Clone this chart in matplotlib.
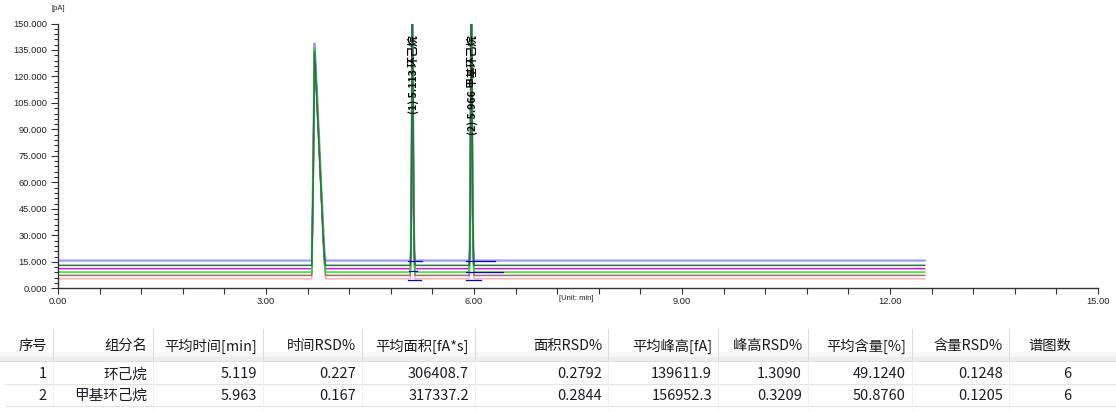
import numpy as np
import matplotlib
matplotlib.use('Agg')
import matplotlib.pyplot as plt
from matplotlib.ticker import MultipleLocator, FormatStrFormatter
from matplotlib.patches import Rectangle

plt.rcParams['font.family'] = ['Noto Sans CJK SC', 'DejaVu Sans']

# ---- chromatogram data (pA vs min) ----
run_end = 12.5
baselines = [15.7, 13.0, 11.1, 9.2, 7.3, 5.4]
trace_colors = ['#9a9aff', '#1e7b3c', '#ff00ff', '#00ff00', '#a86a62', '#ffb0b0']
trace_lw = [1.6, 1.1, 1.1, 1.1, 1.1, 1.1]
draw_order = [0, 5, 4, 2, 3, 1]   # light blue first, dark green on top

# solvent peak
p1_t = [3.66, 3.68, 3.70, 3.72, 3.74, 3.76, 3.78, 3.80, 3.82, 3.84, 3.86]
p1_h = [
    [0, 52, 123, 108, 91, 74, 57, 40, 23, 7, 0],
    [0, 48, 121, 105, 88, 71, 54, 37, 20, 5, 0],
    [0, 50, 125, 110, 93, 76, 58, 41, 24, 8, 0],
    [0, 55, 127, 112, 95, 78, 61, 44, 27, 10, 0],
    [0, 49, 128, 111, 94, 77, 60, 43, 25, 8, 0],
    [0, 47, 130, 113, 96, 79, 62, 45, 27, 9, 0],
]
# (1) 环己烷
p2_t = [5.08, 5.09, 5.10, 5.11, 5.12, 5.13, 5.14, 5.15]
p2_h = [
    [0, 8, 62, 141, 96, 30, 6, 0],
    [0, 5, 55, 138, 100, 34, 8, 0],
    [0, 10, 66, 140, 90, 28, 5, 0],
    [0, 6, 58, 139, 98, 36, 9, 0],
    [0, 9, 64, 142, 94, 31, 6, 0],
    [0, 7, 60, 138, 97, 33, 7, 0],
]
# (2) 甲基环己烷
p3_t = [5.93, 5.94, 5.95, 5.96, 5.97, 5.98, 5.99, 6.00]
p3_h = [
    [0, 10, 70, 157, 110, 35, 8, 0],
    [0, 7, 64, 156, 114, 40, 10, 0],
    [0, 12, 74, 158, 106, 32, 7, 0],
    [0, 8, 68, 157, 112, 38, 9, 0],
    [0, 11, 72, 156, 108, 34, 8, 0],
    [0, 9, 66, 157, 111, 37, 9, 0],
]

# integration baselines (start, end, level)
integ_marks = [
    (5.05, 5.25, 15.2), (5.06, 5.18, 10.0), (5.05, 5.23, 4.8),
    (5.88, 6.30, 15.2), (5.88, 6.42, 9.3), (5.88, 6.10, 4.8),
]

peak_labels = ['(1) 5.113 环己烷', '(2) 5.966 甲基环己烷']
peak_label_t = [5.12, 5.97]

x_major = [0, 3, 6, 9, 12, 15]
y_major = [0, 15, 30, 45, 60, 75, 90, 105, 120, 135, 150]

# ---- results table ----
headers = ['序号', '组分名', '平均时间[min]', '时间RSD%', '平均面积[fA*s]', '面积RSD%',
           '平均峰高[fA]', '峰高RSD%', '平均含量[%]', '含量RSD%', '谱图数']
row1 = ['1', '环己烷', '5.119', '0.227', '306408.7', '0.2792', '139611.9', '1.3090',
        '49.1240', '0.1248', '6']
row2 = ['2', '甲基环己烷', '5.963', '0.167', '317337.2', '0.2844', '156952.3', '0.3209',
        '50.8760', '0.1205', '6']
col_edges = [53, 153, 263, 362, 475, 608, 718, 808, 912, 1009, 1077]


fig = plt.figure(figsize=(11.16, 4.12), dpi=100)

W, H = 1116.0, 412.0
ax = fig.add_axes([58 / W, 1 - 288.3 / H, (1098 - 58) / W, (288.3 - 23.5) / H])

for k, i in enumerate(draw_order):
    t = [0.0] + p1_t + p2_t + p3_t + [run_end]
    h = [0] + p1_h[i] + p2_h[i] + p3_h[i] + [0]
    y = [baselines[i] + v for v in h]
    ax.plot(t, y, color=trace_colors[i], lw=trace_lw[i], zorder=2 + k * 0.1)

for (t0, t1, lvl) in integ_marks:
    ax.plot([t0, t1], [lvl, lvl], color='#0000ff', lw=0.9, zorder=3)

for txt, tp in zip(peak_labels, peak_label_t):
    ax.text(tp, 143.5, txt, rotation=90, ha='center', va='top', fontsize=7.6,
            fontweight='bold', color='black', zorder=5)

ax.set_xlim(0, 15)
ax.set_ylim(0, 150)
ax.set_xticks(x_major)
ax.set_yticks(y_major)
ax.xaxis.set_minor_locator(MultipleLocator(0.6))
ax.yaxis.set_minor_locator(MultipleLocator(3))
ax.xaxis.set_major_formatter(FormatStrFormatter('%.2f'))
ax.yaxis.set_major_formatter(FormatStrFormatter('%.3f'))

for s in ['top', 'right']:
    ax.spines[s].set_visible(False)
for s in ['left', 'bottom']:
    ax.spines[s].set_color('#333333')
    ax.spines[s].set_linewidth(1.0)

ax.tick_params(axis='both', which='both', colors='#333333', labelcolor='#222222',
               labelsize=6.7, width=0.8)
ax.tick_params(axis='y', which='major', length=5, pad=3)
ax.tick_params(axis='y', which='minor', length=3)
ax.tick_params(axis='x', which='both', length=4, pad=2)
for lab in ax.get_xticklabels() + ax.get_yticklabels():
    lab.set_family('Liberation Sans')

fig.text(58 / W, 1 - 8 / H, '[pA]', fontsize=5.5, ha='center', va='center',
         family='Liberation Sans', color='#222222')
fig.text(576 / W, 1 - 299 / H, '[Unit: min]', fontsize=5.5, ha='center', va='center',
         family='Liberation Sans', color='#222222')

# table drawn in pixel coordinates
tab = fig.add_axes([0, 0, 1, 1])
tab.set_xlim(0, W)
tab.set_ylim(H, 0)
tab.axis('off')
tab.patch.set_alpha(0)

tab.add_patch(Rectangle((0, 352), W, 9, facecolor='#f6f6f6', edgecolor='none'))
tab.add_patch(Rectangle((0, 357), W, 4, facecolor='#eeeeee', edgecolor='none'))
tab.plot([0, W], [361, 361], color='#dedede', lw=0.8)
for ye in [384, 406]:
    tab.plot([5, W], [ye, ye], color='#e4e4e4', lw=0.8)
for xe in col_edges[:-1]:
    tab.plot([xe, xe], [329, 361], color='#dcdcdc', lw=0.8)
    tab.plot([xe, xe], [361, 408], color='#efefef', lw=0.8)

for j, xe in enumerate(col_edges):
    tab.text(xe - 6, 346, headers[j], ha='right', va='center', fontsize=10.3,
             color='#1a1a1a')
    tab.text(xe - 6, 374.5, row1[j], ha='right', va='center', fontsize=10.5,
             color='#1c1c28')
    tab.text(xe - 6, 396, row2[j], ha='right', va='center', fontsize=10.5,
             color='#1c1c28')

fig.savefig('out.png', dpi=100)
